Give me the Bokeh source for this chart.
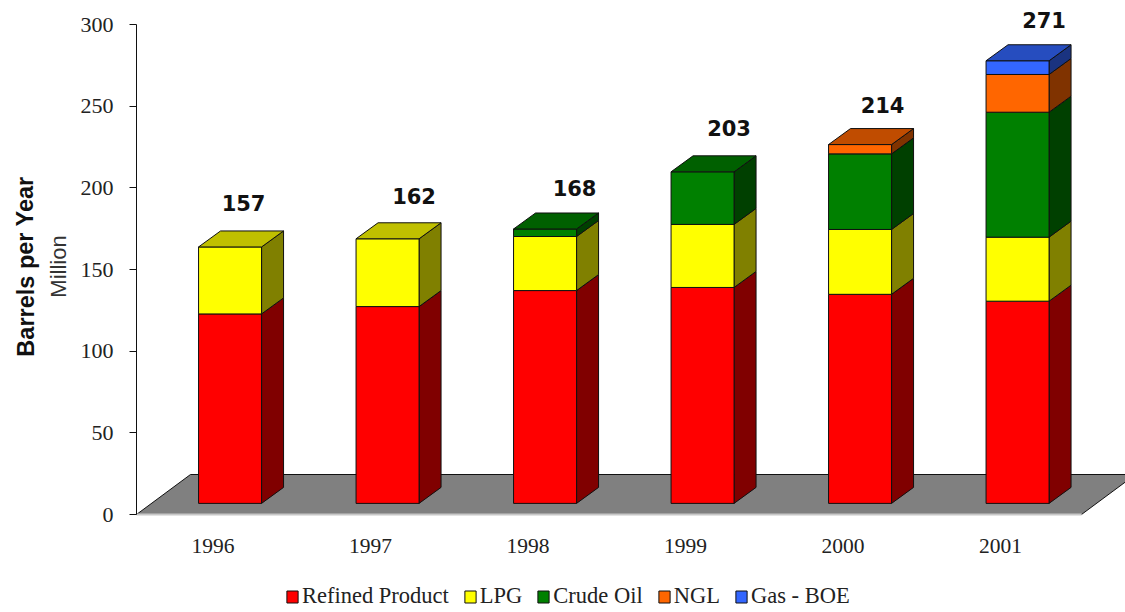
from bokeh.core.properties import value
from bokeh.embed import file_html
from bokeh.models import ColumnDataSource, FixedTicker, Label, Legend, LegendItem, Range1d
from bokeh.plotting import figure
from bokeh.resources import INLINE

# Barrels per year, million, by product
years = [1996, 1997, 1998, 1999, 2000, 2001]
refined = [116.0, 120.5, 130.3, 132.2, 128.0, 123.8]
lpg = [41.0, 41.5, 33.1, 38.6, 39.7, 39.2]
crude = [0.0, 0.0, 4.6, 32.2, 46.3, 76.5]
ngl = [0.0, 0.0, 0.0, 0.0, 5.7, 23.1]
gas = [0.0, 0.0, 0.0, 0.0, 0.0, 8.4]
totals = [157, 162, 168, 203, 214, 271]
total_tops = [157.0, 162.0, 168.0, 203.0, 219.7, 271.0]

series = [
    ("Refined Product", refined, "#FF0000", "#800000", "#C00000"),
    ("LPG", lpg, "#FFFF00", "#808000", "#C0C000"),
    ("Crude Oil", crude, "#008000", "#004000", "#006000"),
    ("NGL", ngl, "#FF6600", "#803300", "#C04C00"),
    ("Gas - BOE", gas, "#3366FF", "#1A3380", "#264DBF"),
]

# Pseudo-3D geometry, expressed in axis units
PX_X = 157.5
PX_Y = 490 / 300
X_START = 1995.514    # where the vertical axis stands
BASE = 6.8            # bars stand on the middle of the floor
BAR_LEFT = -0.092
BAR_WIDTH = 0.4
DEPTH_X = 22 / PX_X
DEPTH_Y = 16 / PX_Y
FLOOR_X = 54 / PX_X
FLOOR_Y = 40 / PX_Y

# The frame fills the whole page; both axes sit inside it at fixed positions
p = figure(
    width=1125,
    height=612,
    min_border=0,
    x_range=Range1d(X_START - 136 / PX_X, X_START + 989 / PX_X),
    y_range=Range1d(-98 / PX_Y, 514 / PX_Y),
    output_backend="svg",
    toolbar_location=None,
    background_fill_color="white",
    outline_line_color=None,
)
p.grid.visible = False

# Floor
fl = X_START
fr = X_START + 6
p.patch([fl, fr, fr + FLOOR_X, fl + FLOOR_X], [0, 0, FLOOR_Y, FLOOR_Y], fill_color="#808080", line_color=None)
p.line([fl, fl + FLOOR_X, fr + FLOOR_X, fr], [0, FLOOR_Y, FLOOR_Y, 0], line_color="#111111", line_width=1)
p.line([fl, fr], [0, 0], line_color="#C8C8C8", line_width=2)

# Bars: side faces, then front faces, then the top of each stack
stack = [BASE] * len(years)
legend_items = []
top_owner = [None] * len(years)
for name, vals, front, side, top in series:
    lefts = [y + BAR_LEFT for y in years]
    rights = [x + BAR_WIDTH for x in lefts]
    bottoms = list(stack)
    tops = [b + v for b, v in zip(bottoms, vals)]
    side_xs, side_ys = [], []
    for r, b, t, v in zip(rights, bottoms, tops, vals):
        if v > 0:
            side_xs.append([r, r + DEPTH_X, r + DEPTH_X, r])
            side_ys.append([b, b + DEPTH_Y, t + DEPTH_Y, t])
    p.patches(side_xs, side_ys, fill_color=side, line_color="#101010", line_width=1)
    for i, v in enumerate(vals):
        if v > 0:
            top_owner[i] = top
    keep = [i for i, v in enumerate(vals) if v > 0]
    src = ColumnDataSource(dict(
        left=[lefts[i] for i in keep],
        right=[rights[i] for i in keep],
        bottom=[bottoms[i] for i in keep],
        top=[tops[i] for i in keep],
    ))
    r_front = p.quad(left="left", right="right", bottom="bottom", top="top", source=src,
                     fill_color=front, line_color="#101010", line_width=1)
    legend_items.append(LegendItem(label=name, renderers=[r_front]))
    stack = tops

for year, top_val, colour in zip(years, stack, top_owner):
    l = year + BAR_LEFT
    r = l + BAR_WIDTH
    p.patch([l, r, r + DEPTH_X, l + DEPTH_X], [top_val, top_val, top_val + DEPTH_Y, top_val + DEPTH_Y],
            fill_color=colour, line_color="#101010", line_width=1)

# Totals above the stacks
label_shift_px = [45, 58, 61, 58, 54, 58]
label_lift_px = [44, 43, 41, 44, 40, 41]
p.text(
    x=[y + BAR_LEFT + s / PX_X for y, s in zip(years, label_shift_px)],
    y=[BASE + t + l / PX_Y for t, l in zip(total_tops, label_lift_px)],
    text=[str(t) for t in totals],
    text_font=value("DejaVu Sans"),
    text_font_style="bold",
    text_font_size="21px",
    text_color="#111111",
    text_align="center",
    text_baseline="middle",
)

# Axes
yax = p.yaxis[0]
yax.fixed_location = X_START
yax.bounds = (0, 300)
yax.ticker = FixedTicker(ticks=[0, 50, 100, 150, 200, 250, 300])
yax.axis_line_color = "#111111"
yax.major_tick_line_color = "#111111"
yax.major_tick_out = 7
yax.major_tick_in = 0
yax.minor_tick_line_color = None
yax.major_label_standoff = 16
yax.major_label_text_font = "Liberation Serif"
yax.major_label_text_font_size = "22px"
yax.major_label_text_color = "#222222"

xax = p.xaxis[0]
xax.fixed_location = 0
xax.ticker = FixedTicker(ticks=years)
xax.axis_line_color = None
xax.major_tick_line_color = None
xax.minor_tick_line_color = None
xax.major_label_standoff = 18
xax.major_label_text_font = "Liberation Serif"
xax.major_label_text_font_size = "21.5px"
xax.major_label_text_color = "#222222"

# Rotated axis captions
p.add_layout(Label(x=25, y=346, x_units="screen", y_units="screen", text="Barrels per Year", angle=1.5708,
                   angle_units="rad", text_font="Liberation Sans", text_font_style="bold", text_font_size="23.5px",
                   text_color="#111111", text_align="center", text_baseline="middle"))
p.add_layout(Label(x=58, y=346, x_units="screen", y_units="screen", text="Million", angle=1.5708,
                   angle_units="rad", text_font="Liberation Sans", text_font_size="22px",
                   text_color="#333333", text_align="center", text_baseline="middle"))

legend = Legend(
    items=legend_items,
    orientation="horizontal",
    location=(285, 3),
    margin=0,
    padding=0,
    spacing=14,
    glyph_width=14,
    glyph_height=15,
    label_standoff=3,
    border_line_color=None,
    background_fill_color=None,
    label_text_font="Liberation Serif",
    label_text_font_size="22.5px",
    label_text_color="#222222",
)
p.add_layout(legend, "center")

open("out.html", "w").write(file_html(p, INLINE))
